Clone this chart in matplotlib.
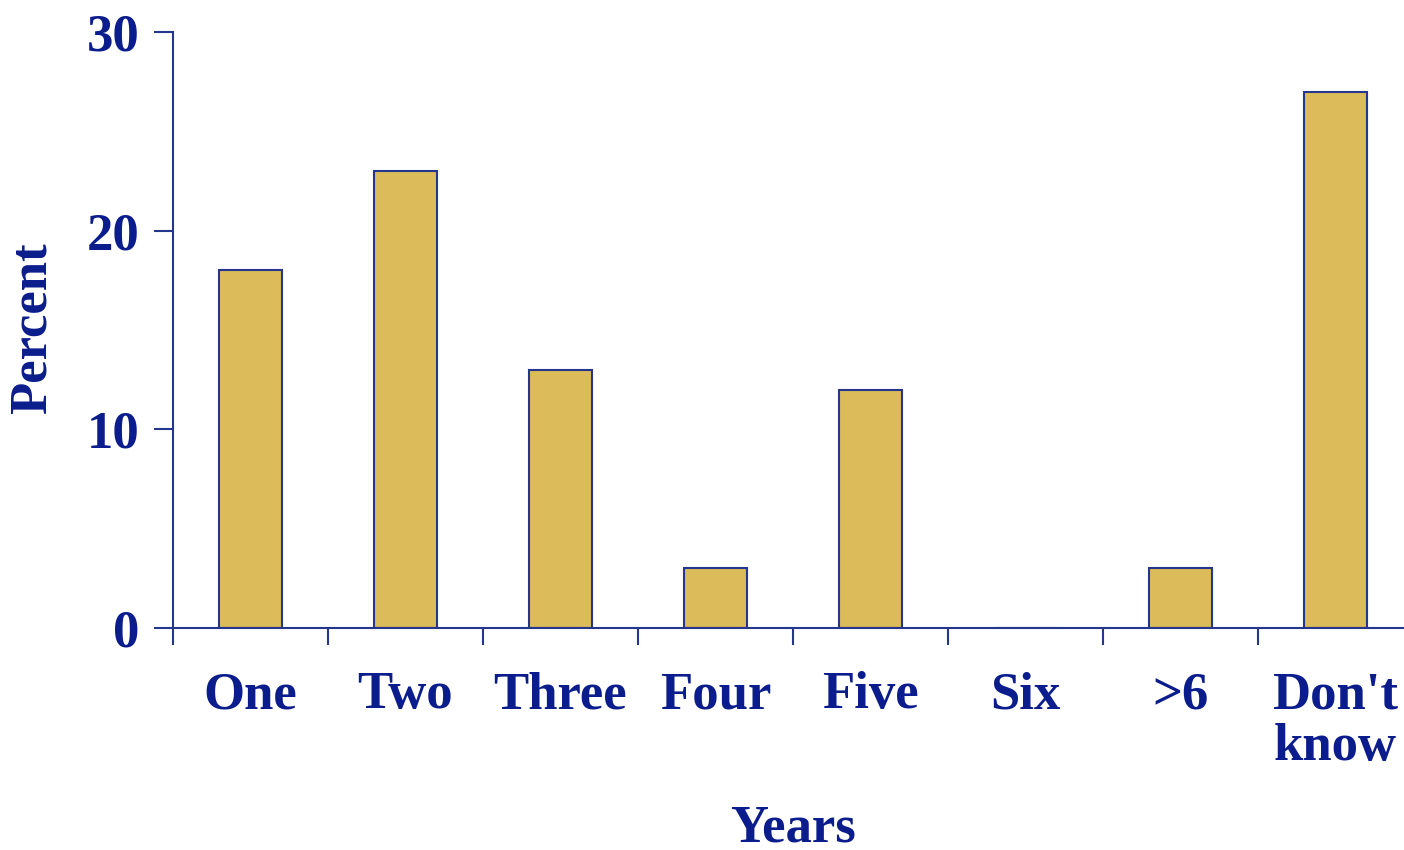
import matplotlib.pyplot as plt
import numpy as np

categories = ["One", "Two", "Three", "Four", "Five", "Six", ">6", "Don't\nknow"]
percent = [18, 23, 13, 3, 12, 0, 3, 27]
y_ticks = [0, 10, 20, 30]

text_color = "#0b1c8c"
line_color = "#25378c"
bar_color = "#dbbb5a"

plt.rcParams['font.family'] = ['Liberation Serif', 'DejaVu Serif']
plt.rcParams['font.weight'] = 'bold'

fig = plt.figure(figsize=(14.04, 8.5), dpi=100)
ax = fig.add_axes([173 / 1404, 1 - 628 / 850, 1240 / 1404, 596 / 850])

x = np.arange(len(categories))
ax.bar(x, percent, width=0.41, color=bar_color, edgecolor=line_color, linewidth=1.5, zorder=2)

ax.set_xlim(-0.5, len(categories) - 0.5)
ax.set_ylim(0, 30)

for side in ["top", "right"]:
    ax.spines[side].set_visible(False)
for side in ["left", "bottom"]:
    ax.spines[side].set_color(line_color)
    ax.spines[side].set_linewidth(1.5)

ax.set_yticks(y_ticks)
ax.tick_params(axis="y", direction="out", length=14, width=1.5, color=line_color,
               labelsize=38, labelcolor=text_color, pad=10)

# boundary ticks, category labels on minor ticks
ax.set_xticks(np.arange(-0.5, len(categories) - 0.5, 1.0))
ax.set_xticklabels([])
ax.tick_params(axis="x", which="major", direction="out", length=12, width=1.5, color=line_color)
ax.set_xticks(x, minor=True)
ax.set_xticklabels(categories, minor=True, fontsize=38, color=text_color,
                   fontweight="bold", linespacing=1.1, va="top")
ax.tick_params(axis="x", which="minor", length=0, pad=31)

fig.text(793 / 1404, 1 - 828 / 850, "Years", fontsize=38, color=text_color,
         fontweight="bold", ha="center", va="center")
fig.text(33 / 1404, 1 - 328 / 850, "Percent", rotation=90, fontsize=38, color=text_color,
         fontweight="bold", ha="center", va="center")

plt.savefig("out.png", dpi=100)
plt.close()
